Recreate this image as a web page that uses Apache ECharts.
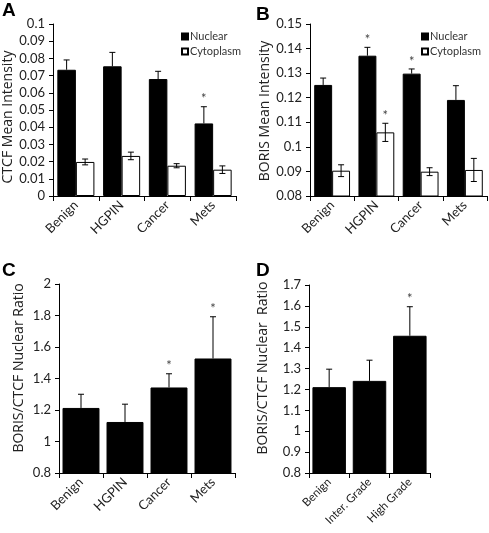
<!DOCTYPE html>
<html><head><meta charset="utf-8">
<script src="https://cdn.jsdelivr.net/npm/echarts@6/dist/echarts.min.js"></script>
<style>html,body{margin:0;padding:0;background:#fff}#c{width:489px;height:533px}</style>
</head><body><div id="c"></div>
<script>
// ---- data ----
const catsABC = ['Benign', 'HGPIN', 'Cancer', 'Mets'];
const catsD = ['Benign', 'Inter. Grade', 'High Grade'];

const aNuclear = [0.0734, 0.0754, 0.068, 0.0422];
const aNuclearErr = [0.0057, 0.0081, 0.0045, 0.0097];
const aNuclearStar = [0, 0, 0, 1];
const aCyto = [0.0198, 0.0233, 0.0176, 0.0153];
const aCytoErr = [0.0017, 0.0022, 0.0012, 0.0022];
const aCytoStar = [0, 0, 0, 0];

const bNuclear = [0.1252, 0.1371, 0.1298, 0.1191];
const bNuclearErr = [0.0028, 0.0034, 0.0019, 0.0058];
const bNuclearStar = [0, 1, 1, 0];
const bCyto = [0.0903, 0.1059, 0.0899, 0.0906];
const bCytoErr = [0.0024, 0.0037, 0.0016, 0.0047];
const bCytoStar = [0, 1, 0, 0];

const cRatio = [1.213, 1.124, 1.343, 1.527];
const cErr = [0.087, 0.113, 0.087, 0.265];
const cStar = [0, 0, 1, 1];

const dRatio = [1.211, 1.241, 1.457];
const dErr = [0.086, 0.099, 0.139];
const dStar = [0, 0, 1];

const yTitles = ['CTCF Mean Intensity', 'BORIS Mean Intensity', 'BORIS/CTCF Nuclear Ratio', 'BORIS/CTCF Nuclear  Ratio'];
const panelLetters = ['A', 'B', 'C', 'D'];

// ---- chart ----
const FONT = 'Lato';
const TFONT = 'Open Sans';
const TXT = '#222';
const chart = echarts.init(document.getElementById('c'), null, {renderer: 'canvas'});

function errSeries(gridIdx, vals, errs, stars, both, offsetFrac) {
  return {
    type: 'custom', xAxisIndex: gridIdx, yAxisIndex: gridIdx, z: 10, clip: false,
    silent: true,
    data: vals.map((v, i) => [i, v, errs[i], both ? 1 : 0, stars[i]]),
    renderItem: function (params, api) {
      const i = api.value(0), v = api.value(1), e = api.value(2), b = api.value(3), s = api.value(4);
      const band = api.size([1, 0])[0];
      const p = api.coord([i, v]);
      const x = p[0] + offsetFrac * band;
      const top = api.coord([i, v + e])[1];
      const bot = b ? api.coord([i, v - e])[1] : p[1];
      const st = {stroke: '#000', lineWidth: 1};
      const ch = [
        {type: 'line', shape: {x1: x, y1: top, x2: x, y2: bot}, style: st},
        {type: 'line', shape: {x1: x - 3, y1: top, x2: x + 3, y2: top}, style: st}
      ];
      if (b) ch.push({type: 'line', shape: {x1: x - 3, y1: bot, x2: x + 3, y2: bot}, style: st});
      if (s) ch.push({type: 'text', style: {text: '*', x: x, y: top - 1, align: 'center', verticalAlign: 'bottom', fontSize: 13, fontFamily: FONT, fill: '#444'}});
      return {type: 'group', children: ch};
    }
  };
}

const grids = [
  {left: 53, right: 253, top: 24, bottom: 337},
  {left: 310, right: 2, top: 24, bottom: 337},
  {left: 59, right: 254, top: 284, bottom: 60},
  {left: 309, right: 59, top: 285, bottom: 60}
];
const yRanges = [[0, 0.1, 0.01], [0.08, 0.15, 0.01], [0.8, 2, 0.2], [0.8, 1.7, 0.1]];
const catsList = [catsABC, catsABC, catsABC, catsD];
const titlePos = [[8, 117], [265, 111], [19, 368], [263, 368]];

const xAxes = catsList.map((cats, k) => ({
  type: 'category', gridIndex: k, data: cats,
  axisLine: {lineStyle: {color: '#000', width: 1}},
  axisTick: {show: true, length: 5, lineStyle: {color: '#000'}},
  axisLabel: {rotate: 45, interval: 0, margin: 7, fontSize: k === 3 ? 11.5 : 13, color: TXT, fontFamily: FONT}
}));
const yAxes = yRanges.map((r, k) => ({
  type: 'value', gridIndex: k, min: r[0], max: r[1], interval: r[2],
  axisLine: {show: true, lineStyle: {color: '#000', width: 1}},
  axisTick: {show: true, length: 4, lineStyle: {color: '#000'}},
  splitLine: {show: false},
  axisLabel: {fontSize: 13, color: TXT, margin: 8, fontFamily: FONT}
}));

const nucStyle = {color: '#000', borderColor: '#000', borderWidth: 1};
const cytStyle = {color: '#fff', borderColor: '#000', borderWidth: 1};

const series = [
  {type: 'bar', name: 'Nuclear', xAxisIndex: 0, yAxisIndex: 0, data: aNuclear, itemStyle: nucStyle, barGap: '0%', barCategoryGap: '19%'},
  {type: 'bar', name: 'Cytoplasm', xAxisIndex: 0, yAxisIndex: 0, data: aCyto, itemStyle: cytStyle, barGap: '0%', barCategoryGap: '19%'},
  {type: 'bar', name: 'Nuclear', xAxisIndex: 1, yAxisIndex: 1, data: bNuclear, itemStyle: nucStyle, barGap: '0%', barCategoryGap: '19%'},
  {type: 'bar', name: 'Cytoplasm', xAxisIndex: 1, yAxisIndex: 1, data: bCyto, itemStyle: cytStyle, barGap: '0%', barCategoryGap: '19%'},
  {type: 'bar', name: 'Ratio', xAxisIndex: 2, yAxisIndex: 2, data: cRatio, itemStyle: nucStyle, barCategoryGap: '16%'},
  {type: 'bar', name: 'RatioD', xAxisIndex: 3, yAxisIndex: 3, data: dRatio, itemStyle: nucStyle, barCategoryGap: '17%'},
  errSeries(0, aNuclear, aNuclearErr, aNuclearStar, false, -0.2025),
  errSeries(0, aCyto, aCytoErr, aCytoStar, true, 0.2025),
  errSeries(1, bNuclear, bNuclearErr, bNuclearStar, false, -0.2025),
  errSeries(1, bCyto, bCytoErr, bCytoStar, true, 0.2025),
  errSeries(2, cRatio, cErr, cStar, false, 0),
  errSeries(3, dRatio, dErr, dStar, false, 0)
];

const legendBase = {
  data: ['Nuclear', 'Cytoplasm'], orient: 'vertical', icon: 'rect',
  itemWidth: 6, itemHeight: 6, itemGap: 4, selectedMode: false,
  textStyle: {fontSize: 11, color: '#333', fontFamily: FONT, padding: [0, 0, 0, -3]}
};

const letterPos = [[2, 1], [256, 5], [2, 261], [256, 261]];

const graphics = panelLetters.map((t, k) => ({
  type: 'text', left: letterPos[k][0], top: letterPos[k][1],
  style: {text: t, fontSize: 19, fontWeight: 'bold', fontFamily: 'Liberation Sans', fill: '#000'}
})).concat(yTitles.map((t, k) => ({
  type: 'text', x: titlePos[k][0], y: titlePos[k][1], rotation: Math.PI / 2,
  style: {text: t, x: 0, y: 0, align: 'center', verticalAlign: 'middle', fontSize: 14, fontFamily: TFONT, fill: TXT}
})));

chart.setOption({
  animation: false,
  grid: grids,
  xAxis: xAxes,
  yAxis: yAxes,
  legend: [
    Object.assign({}, legendBase, {left: 176, top: 26}),
    Object.assign({}, legendBase, {left: 416, top: 26})
  ],
  graphic: graphics,
  series: series
});
</script></body></html>
